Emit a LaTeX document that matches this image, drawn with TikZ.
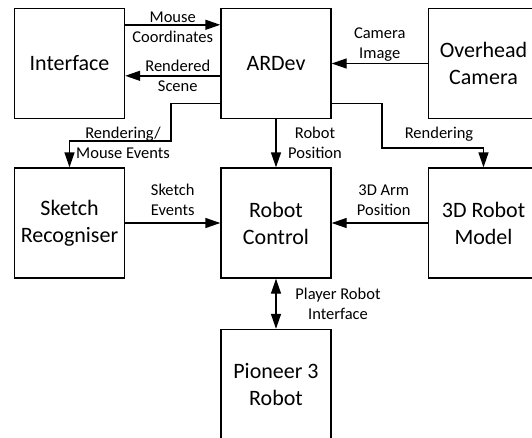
\documentclass[tikz,border=0pt]{standalone}
\usepackage{fontspec}
\setmainfont{Carlito}
\usetikzlibrary{arrows.meta,positioning,calc}

\tikzset{
 block/.style={draw,line width=1.4pt,minimum width=110pt,minimum height=110pt,
 inner sep=2pt,align=center,font=\fontsize{22}{27}\selectfont},
 lbl/.style={align=center,inner sep=1pt,font=\fontsize{16.5}{20}\selectfont},
 arr/.style={line width=1.4pt,-{Triangle[length=15pt,width=10pt]}},
 darr/.style={line width=1.4pt,{Triangle[length=15pt,width=10pt]}-{Triangle[length=15pt,width=10pt]}}
}

\begin{document}
\begin{tikzpicture}[x=1pt,y=-1pt]
 \clip (0,0) rectangle (532,437);
 \fill[white] (0,0) rectangle (532,437);
 % boxes
 \node[block] (iface) at (69.5,63.5) {Interface};
 \node[block] (ardev) at (276,63.5) {ARDev};
 \node[block] (cam) at (483.5,63.5) {Overhead\\Camera};
 \node[block] (sketch) at (69.5,223) {Sketch\\Recogniser};
 \node[block] (ctrl) at (276,223) {Robot\\Control};
 \node[block] (model) at (483.5,223) {3D Robot\\Model};
 \node[block] (pioneer) at (276,384.5) {Pioneer 3\\Robot};
 % bends
 \coordinate (bl) at (171,141);
 \coordinate (br) at (382,148);
 % connectors
 \draw[arr] ([yshift=-17pt]iface.north east) -- ([yshift=-17pt]ardev.north west)
 node[lbl,midway,yshift=-2pt] {Mouse\\Coordinates};
 \draw[arr] ([yshift=-68pt]ardev.north west) -- ([yshift=-68pt]iface.north east)
 node[lbl,midway,xshift=5pt] {Rendered\\Scene};
 \draw[arr] (cam) -- (ardev) node[lbl,midway,yshift=19pt] {Camera\\Image};
 \draw[arr] (ardev) -- (ctrl) node[lbl,midway,xshift=39pt] {Robot\\Position};
 \draw[arr] ([yshift=-40pt]ardev.west) -| (bl) -| (sketch.north);
 \node[lbl] (lrend) at (123,143) {Rendering/\\Mouse Events};
 \draw[arr] ([yshift=-40pt]ardev.east) -| (br) -| (model.north);
 \node[lbl] (lrmod) at (439,134) {Rendering};
 \draw[arr] (sketch) -- (ctrl) node[lbl,midway,yshift=23pt] {Sketch\\Events};
 \draw[arr] (model) -- (ctrl) node[lbl,midway,xshift=4pt,yshift=23pt] {3D Arm\\Position};
 \draw[darr] (ctrl) -- (pioneer) node[lbl,midway,xshift=62pt] {Player Robot\\Interface};
\end{tikzpicture}
\end{document}
